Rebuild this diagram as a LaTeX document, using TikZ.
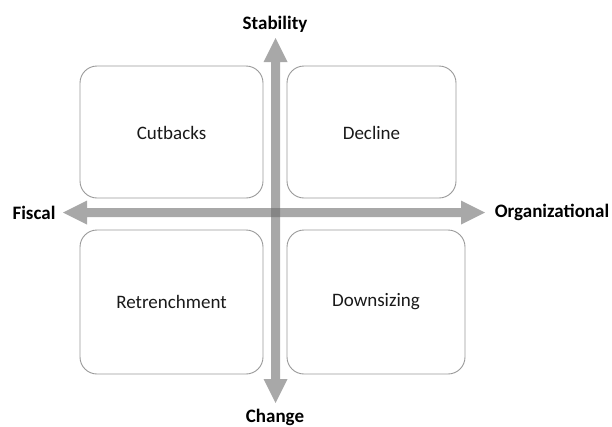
\documentclass[tikz,border=0pt]{standalone}
\usepackage{fontspec}
\setmainfont{Carlito}
\begin{document}
\begin{tikzpicture}[x=1pt,y=-1pt,
  quad/.style={draw=black!40, line width=0.9pt, rounded corners=17pt, fill=white},
  quadtext/.style={font=\fontsize{19}{22}\selectfont, text=black!90},
  axislabel/.style={font=\fontsize{19}{22}\selectfont\bfseries},
  axisfill/.style={fill=black!57, fill opacity=0.6}]
\useasboundingbox (0,0) rectangle (612,426);
% quadrant boxes
\draw[quad] (80,66) rectangle (263,198);
\draw[quad] (287,66) rectangle (456,198);
\draw[quad] (80,230) rectangle (263,374);
\draw[quad] (287,230) rectangle (465,374);
\node[quadtext] (cut) at (171.5,133) {Cutbacks};
\node[quadtext] (dec) at (371.5,133) {Decline};
\node[quadtext] (ret) at (171.5,302) {Retrenchment};
\node[quadtext] (down) at (376,302) {Downsizing};
% arrow tips
\coordinate (ttip) at (275.5,38);
\coordinate (btip) at (275.5,403);
\coordinate (ltip) at (63,212.5);
\coordinate (rtip) at (485,212.5);
% vertical double arrow
\fill[axisfill] (ttip) -- ([shift={(12,24)}]ttip) -- ([shift={(4.5,24)}]ttip)
  -- ([shift={(4.5,-24)}]btip) -- ([shift={(12,-24)}]btip) -- (btip)
  -- ([shift={(-12,-24)}]btip) -- ([shift={(-4.5,-24)}]btip)
  -- ([shift={(-4.5,24)}]ttip) -- ([shift={(-12,24)}]ttip) -- cycle;
% horizontal double arrow
\fill[axisfill] (ltip) -- ([shift={(24,-12)}]ltip) -- ([shift={(24,-4.5)}]ltip)
  -- ([shift={(-24,-4.5)}]rtip) -- ([shift={(-24,-12)}]rtip) -- (rtip)
  -- ([shift={(-24,12)}]rtip) -- ([shift={(-24,4.5)}]rtip)
  -- ([shift={(24,4.5)}]ltip) -- ([shift={(24,12)}]ltip) -- cycle;
% axis labels
\node[axislabel] (stab) at (275,24) {Stability};
\node[axislabel] (chg) at (275,417) {Change};
\node[axislabel] (fis) at (34,213) {Fiscal};
\node[axislabel] (org) at (552,212) {Organizational};
\end{tikzpicture}
\end{document}
